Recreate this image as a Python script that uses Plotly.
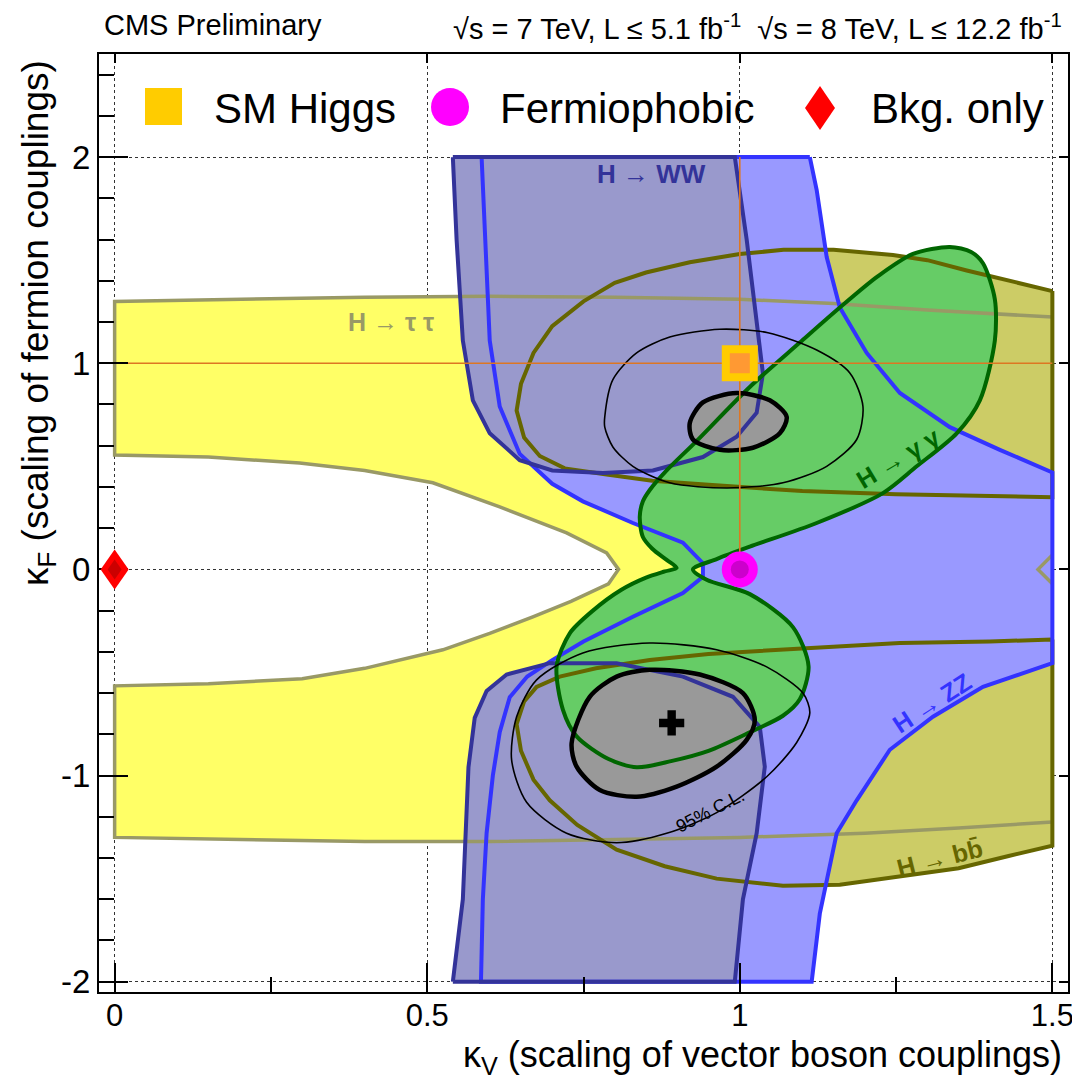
import plotly.graph_objects as go

# ---------------- data: contour boundaries in (kappa_V, kappa_F) ----------------
# H -> tau tau (yellow band)
tt_top_x = [0.0, 0.2, 0.4, 0.6, 0.8, 1.0, 1.15, 1.3, 1.5]
tt_top_y = [1.30, 1.31, 1.32, 1.325, 1.32, 1.31, 1.29, 1.258, 1.224]
tt_bot_x = [0.0, 0.2, 0.4, 0.6, 0.8, 1.0, 1.2, 1.35, 1.5]
tt_bot_y = [-1.30, -1.31, -1.32, -1.32, -1.31, -1.30, -1.28, -1.255, -1.225]
tt_in_x = [0.0, 0.15, 0.296, 0.4, 0.509, 0.616, 0.723, 0.787, 0.806, 0.79, 0.73, 0.669,
           0.6, 0.525, 0.4, 0.3, 0.15, 0.0]
tt_in_y = [0.555, 0.545, 0.516, 0.48, 0.42, 0.303, 0.177, 0.08, 0.0, -0.07, -0.155, -0.23,
           -0.31, -0.39, -0.48, -0.53, -0.555, -0.565]
tt_notch_x = [1.5, 1.477, 1.5]
tt_notch_y = [0.07, 0.0, -0.07]

# H -> bb (olive), upper and lower lobes
bbu_x = [1.5, 1.43, 1.363, 1.30, 1.245, 1.15, 1.07, 1.0, 0.92, 0.85, 0.80, 0.75, 0.70, 0.67,
         0.65, 0.643, 0.655, 0.68, 0.72, 0.787, 0.86, 0.95, 1.10, 1.25, 1.4, 1.5]
bbu_y = [1.35, 1.40, 1.45, 1.50, 1.525, 1.55, 1.55, 1.53, 1.49, 1.44, 1.39, 1.30, 1.18, 1.05,
         0.90, 0.77, 0.64, 0.55, 0.49, 0.46, 0.43, 0.41, 0.38, 0.365, 0.355, 0.35]
bbl_x = [1.5, 1.4, 1.256, 1.07, 0.95, 0.856, 0.77, 0.712, 0.675, 0.655, 0.643, 0.65, 0.67,
         0.696, 0.74, 0.803, 0.88, 0.963, 1.069, 1.16, 1.256, 1.35, 1.43, 1.5]
bbl_y = [-0.34, -0.35, -0.357, -0.39, -0.41, -0.44, -0.48, -0.52, -0.57, -0.64, -0.75, -0.88,
         -1.02, -1.12, -1.24, -1.36, -1.44, -1.50, -1.535, -1.53, -1.49, -1.45, -1.39, -1.34]

# H -> ZZ (blue)
zz_x = [1.112, 1.123, 1.139, 1.16, 1.203, 1.256, 1.336, 1.416, 1.5, 1.5, 1.389, 1.309, 1.24,
        1.187, 1.155, 1.139, 1.128, 1.115, 0.586, 0.589, 0.595, 0.605, 0.616, 0.632, 0.66,
        0.70, 0.75, 0.829, 0.909, 0.941, 0.941, 0.909, 0.829, 0.749, 0.70, 0.648, 0.616,
        0.60, 0.592, 0.587]
zz_y = [2.0, 1.84, 1.515, 1.27, 1.05, 0.856, 0.69, 0.58, 0.47, -0.455, -0.57, -0.715, -0.875,
        -1.12, -1.28, -1.52, -1.67, -2.0, -2.0, -1.60, -1.28, -1.0, -0.79, -0.62, -0.52,
        -0.44, -0.35, -0.23, -0.115, -0.036, 0.03, 0.13, 0.225, 0.33, 0.415, 0.56, 0.79,
        1.11, 1.6, 2.0]

# H -> WW (slate blue), upper and lower regions
wwu_x = [0.541, 0.547, 0.557, 0.573, 0.60, 0.648, 0.70, 0.781, 0.861, 0.941, 0.995, 1.027,
         1.037, 1.027, 1.011, 0.992]
wwu_y = [2.0, 1.6, 1.11, 0.82, 0.66, 0.53, 0.48, 0.468, 0.48, 0.545, 0.643, 0.76, 0.95,
         1.195, 1.60, 2.0]
wwl_x = [0.541, 0.557, 0.566, 0.576, 0.595, 0.627, 0.696, 0.803, 0.909, 0.989, 1.032, 1.04,
         1.027, 1.005, 0.992]
wwl_y = [-2.0, -1.60, -0.96, -0.72, -0.59, -0.51, -0.455, -0.455, -0.52, -0.618, -0.764,
         -0.957, -1.28, -1.60, -2.0]

# H -> gamma gamma (green)
gg_x = [0.899, 0.883, 0.86, 0.845, 0.84, 0.845, 0.856, 0.883, 0.93, 1.016, 1.096, 1.16, 1.22,
        1.277, 1.336, 1.37, 1.389, 1.408, 1.408, 1.384, 1.347, 1.283, 1.229, 1.123, 1.016,
        0.963, 0.925, 0.947, 1.016, 1.085, 1.11, 1.096, 1.069, 1.016, 0.95, 0.89, 0.835,
        0.79, 0.739, 0.717, 0.707, 0.728, 0.765, 0.81, 0.85, 0.88]
gg_y = [0.007, 0.046, 0.10, 0.157, 0.255, 0.33, 0.385, 0.48, 0.62, 0.885, 1.10, 1.27, 1.42,
        1.53, 1.564, 1.54, 1.485, 1.31, 1.11, 0.82, 0.66, 0.50, 0.37, 0.225, 0.11, 0.05, 0.0,
        -0.05, -0.12, -0.28, -0.47, -0.63, -0.71, -0.79, -0.88, -0.93, -0.96, -0.92, -0.81,
        -0.68, -0.47, -0.31, -0.20, -0.10, -0.04, -0.01]

# Combined 68% CL (grey filled) and 95% CL (thin) contours
c68u_x = [0.92, 0.941, 0.995, 1.048, 1.075, 1.064, 1.021, 0.968, 0.925]
c68u_y = [0.71, 0.81, 0.855, 0.82, 0.74, 0.66, 0.59, 0.58, 0.63]
c68l_x = [0.731, 0.76, 0.803, 0.856, 0.936, 1.005, 1.024, 1.011, 0.963, 0.899, 0.835, 0.776,
          0.739]
c68l_y = [-0.843, -0.618, -0.52, -0.487, -0.51, -0.60, -0.73, -0.827, -0.957, -1.054, -1.103,
          -1.07, -0.957]
c95u_x = [0.784, 0.797, 0.835, 0.888, 0.968, 1.045, 1.123, 1.176, 1.197, 1.187, 1.139, 1.069,
          0.98, 0.888, 0.829, 0.797, 0.784]
c95u_y = [0.74, 0.92, 1.05, 1.127, 1.165, 1.148, 1.064, 0.953, 0.79, 0.63, 0.50, 0.42, 0.395,
          0.42, 0.50, 0.594, 0.69]
c95l_x = [0.635, 0.643, 0.675, 0.749, 0.856, 0.963, 1.043, 1.101, 1.112, 1.091, 1.043, 0.963,
          0.883, 0.803, 0.723, 0.659]
c95l_y = [-0.924, -0.715, -0.536, -0.405, -0.357, -0.39, -0.473, -0.60, -0.696, -0.84, -1.006,
          -1.18, -1.28, -1.326, -1.28, -1.13]

# Reference points
sm_point = (1.0, 1.0)
fp_point = (1.0, 0.0)
bkg_point = (0.0, 0.0)
best_fit = (0.891, -0.745)

x_tick_vals = [0, 0.5, 1, 1.5]
x_tick_text = ["0", "0.5", "1", "1.5"]
y_tick_vals = [-2, -1, 0, 1, 2]
y_tick_text = ["-2", "-1", "0", "1", "2"]

FONT = "Liberation Sans, Arial, Helvetica, sans-serif"

fig = go.Figure()


def closed(xs, ys):
    return list(xs) + [xs[0]], list(ys) + [ys[0]]


def add_fill(xs, ys, color, shape="linear"):
    cx, cy = closed(xs, ys)
    fig.add_trace(go.Scatter(x=cx, y=cy, mode="lines", fill="toself", fillcolor=color,
                             line=dict(width=0, color=color, shape=shape, smoothing=0.8),
                             hoverinfo="skip", showlegend=False))


def add_line(xs, ys, color, width, shape="linear"):
    fig.add_trace(go.Scatter(x=xs, y=ys, mode="lines",
                             line=dict(width=width, color=color, shape=shape, smoothing=0.8),
                             hoverinfo="skip", showlegend=False))


# ---- fills (back to front) ----
tt_fx = tt_top_x + tt_notch_x + tt_bot_x[::-1] + tt_in_x[::-1]
tt_fy = tt_top_y + tt_notch_y + tt_bot_y[::-1] + tt_in_y[::-1]
add_fill(tt_fx, tt_fy, "#ffff66")
add_fill(bbu_x, bbu_y, "#cccc66")
add_fill(bbl_x, bbl_y, "#cccc66")
add_fill(zz_x, zz_y, "#9999ff")
add_fill(wwu_x, wwu_y, "#9999cc")
add_fill(wwl_x, wwl_y, "#9999cc")
add_fill(gg_x, gg_y, "#66cc66", "spline")
add_fill(c68u_x, c68u_y, "#999999", "spline")
add_fill(c68l_x, c68l_y, "#999999", "spline")

# ---- contour lines ----
tt_lx = tt_top_x[::-1] + tt_in_x + tt_bot_x + [None] + tt_notch_x
tt_ly = tt_top_y[::-1] + tt_in_y + tt_bot_y + [None] + tt_notch_y
add_line(tt_lx, tt_ly, "#999966", 3.5)
for bx, by in ((bbu_x, bbu_y), (bbl_x, bbl_y)):
    cx, cy = closed(bx, by)
    add_line(cx, cy, "#666600", 4)
cx, cy = closed(zz_x, zz_y)
add_line(cx, cy, "#3333ff", 4)
for wx, wy in ((wwu_x, wwu_y), (wwl_x, wwl_y)):
    cx, cy = closed(wx, wy)
    add_line(cx, cy, "#333399", 4)
cx, cy = closed(gg_x, gg_y)
add_line(cx, cy, "#006600", 4, "spline")
for ex, ey in ((c95u_x, c95u_y), (c95l_x, c95l_y)):
    cx, cy = closed(ex, ey)
    add_line(cx, cy, "black", 1.6, "spline")
for ex, ey in ((c68u_x, c68u_y), (c68l_x, c68l_y)):
    cx, cy = closed(ex, ey)
    add_line(cx, cy, "black", 4.5, "spline")

# ---- SM reference cross-hair ----
add_line([bkg_point[0], x_tick_vals[-1]], [sm_point[1], sm_point[1]], "#dd7722", 1.6)
add_line([sm_point[0], sm_point[0]], [fp_point[1], y_tick_vals[-1]], "#dd7722", 1.6)

# ---- markers ----
fig.add_trace(go.Scatter(x=[sm_point[0]], y=[sm_point[1]], mode="markers",
                         marker=dict(symbol="square", size=36, color="#ffcc00"),
                         hoverinfo="skip", showlegend=False))
fig.add_trace(go.Scatter(x=[sm_point[0]], y=[sm_point[1]], mode="markers",
                         marker=dict(symbol="square", size=20, color="#ff9933"),
                         hoverinfo="skip", showlegend=False))
fig.add_trace(go.Scatter(x=[fp_point[0]], y=[fp_point[1]], mode="markers",
                         marker=dict(symbol="circle", size=36, color="#ff00ff"),
                         hoverinfo="skip", showlegend=False))
fig.add_trace(go.Scatter(x=[fp_point[0]], y=[fp_point[1]], mode="markers",
                         marker=dict(symbol="circle", size=18, color="#cc00cc"),
                         hoverinfo="skip", showlegend=False))
fig.add_trace(go.Scatter(x=[best_fit[0]], y=[best_fit[1]], mode="markers",
                         marker=dict(symbol="cross", size=21, color="black"),
                         hoverinfo="skip", showlegend=False))
# empty trace that activates the top/right tick axes
fig.add_trace(go.Scatter(x=[None], y=[None], xaxis="x2", yaxis="y2", mode="markers",
                         hoverinfo="skip", showlegend=False))

shapes = []
# background-only diamond (pixel-sized, anchored at the data point)
shapes.append(dict(type="path", xref="x", yref="y", xsizemode="pixel", ysizemode="pixel",
                   xanchor=bkg_point[0], yanchor=bkg_point[1],
                   path="M 0 20 L 14 0 L 0 -20 L -14 0 Z", fillcolor="#ff0000",
                   line=dict(width=0), layer="above"))
shapes.append(dict(type="path", xref="x", yref="y", xsizemode="pixel", ysizemode="pixel",
                   xanchor=bkg_point[0], yanchor=bkg_point[1],
                   path="M 0 10 L 7 0 L 0 -10 L -7 0 Z", fillcolor="#cc0000",
                   line=dict(width=0), layer="above"))

# page geometry: the page body adds an 8 px offset, so the figure is 1072 px
# and the plot frame lands at x 99..1068, y 54..992 of the 1080 px window.
PX0, PX1, PY0, PY1 = 99, 1068, 54, 992


def px(xp):
    return (xp - PX0) / float(PX1 - PX0)


def py(yp):
    return (PY1 - yp) / float(PY1 - PY0)


# ---- legend (drawn in paper space) ----
shapes.append(dict(type="rect", xref="paper", yref="paper", x0=px(145), x1=px(182),
                   y0=py(125), y1=py(88), fillcolor="#ffcc00", line=dict(width=0)))
shapes.append(dict(type="circle", xref="paper", yref="paper", x0=px(431), x1=px(469),
                   y0=py(126), y1=py(88), fillcolor="#ff00ff", line=dict(width=0)))
shapes.append(dict(type="path", xref="paper", yref="paper",
                   path="M {a} {b} L {c} {d} L {a} {e} L {f} {d} Z".format(
                       a=px(820), b=py(86), c=px(835), d=py(108), e=py(130), f=px(805)),
                   fillcolor="#ff0000", line=dict(width=0)))

annotations = []
for txt, xp in (("SM Higgs", 212), ("Fermiophobic", 498), ("Bkg. only", 869)):
    annotations.append(dict(text=txt, x=px(xp), y=py(108), xref="paper", yref="paper",
                            xanchor="left", yanchor="middle", showarrow=False,
                            font=dict(family=FONT, size=42, color="black")))

# header texts
annotations.append(dict(text="CMS Preliminary", x=px(103), y=py(25), xref="paper",
                        yref="paper", xanchor="left", yanchor="middle", showarrow=False,
                        borderpad=0, font=dict(family=FONT, size=29, color="black")))
annotations.append(dict(text="√s = 7 TeV, L ≤ 5.1 fb<sup>-1</sup>  √s = 8 TeV, L ≤ 12.2 fb<sup>-1</sup>",
                        x=px(1063), y=py(27), xref="paper", yref="paper", xanchor="right",
                        yanchor="middle", showarrow=False, borderpad=0,
                        font=dict(family=FONT, size=29, color="black")))
# axis titles
annotations.append(dict(text="κ<sub>V</sub> (scaling of vector boson couplings)",
                        x=px(1063), y=py(1057), xref="paper", yref="paper",
                        xanchor="right", yanchor="middle", showarrow=False, borderpad=0,
                        font=dict(family=FONT, size=36, color="black")))
annotations.append(dict(text="κ<sub>F</sub> (scaling of fermion couplings)", textangle=-90,
                        x=px(38), y=py(58), xref="paper", yref="paper",
                        xanchor="center", yanchor="top", showarrow=False,
                        font=dict(family=FONT, size=37, color="black")))

# channel labels (data space)
labels = [
    ("<b>H → WW</b>", 0.859, 1.918, 0, "#333399", 26),
    ("<b>H → τ τ</b>", 0.442, 1.20, 0, "#999966", 25),
    ("<b>H → γ γ</b>", 1.253, 0.54, -31, "#006600", 25),
    ("<b>H → ZZ</b>", 1.307, -0.647, -33, "#3333ff", 25),
    ("<b>H → bb̄</b>", 1.32, -1.40, -14, "#666600", 25),
    ("95% C.L.", 0.952, -1.17, -27, "black", 18),
]
for txt, lx, ly, ang, col, sz in labels:
    annotations.append(dict(text=txt, x=lx, y=ly, xref="x", yref="y", textangle=ang,
                            showarrow=False, xanchor="center", yanchor="middle",
                            font=dict(family=FONT, size=sz, color=col)))

fig.update_layout(
    width=1072, height=1072,
    margin=dict(l=PX0 - 8, r=1080 - PX1, t=PY0 - 8, b=1080 - PY1, autoexpand=False),
    paper_bgcolor="white", plot_bgcolor="white",
    shapes=shapes, annotations=annotations,
    showlegend=False,
    font=dict(family=FONT, color="black"),
    xaxis=dict(range=[-0.025, 1.525], tickmode="array", tickvals=x_tick_vals,
               ticktext=x_tick_text, ticks="inside", ticklen=29, tickwidth=1.5,
               tickcolor="black", showline=True, linecolor="black", linewidth=2,
               mirror=True, showgrid=True, gridcolor="#333333", griddash="dot",
               gridwidth=1, zeroline=False, tickfont=dict(family=FONT, size=31),
               automargin=False, ticklabelstandoff=-5,
               minor=dict(tickmode="linear", tick0=0, dtick=0.25, ticks="inside",
                          ticklen=15, tickcolor="black", showgrid=False)),
    yaxis=dict(range=[-2.05, 2.5], tickmode="array", tickvals=y_tick_vals,
               ticktext=y_tick_text, ticks="inside", ticklen=29, tickwidth=1.5,
               tickcolor="black", showline=True, linecolor="black", linewidth=2,
               mirror=True, showgrid=True, gridcolor="#333333", griddash="dot",
               gridwidth=1, zeroline=False, tickfont=dict(family=FONT, size=33),
               automargin=False,
               minor=dict(tickmode="linear", tick0=0, dtick=0.2, ticks="inside",
                          ticklen=15, tickcolor="black", showgrid=False)),
    xaxis2=dict(overlaying="x", matches="x", side="top", range=[-0.025, 1.525],
                tickmode="array", tickvals=x_tick_vals, ticks="inside", ticklen=9,
                tickwidth=1.5, tickcolor="black", showticklabels=False, showgrid=False,
                zeroline=False, showline=False, automargin=False),
    yaxis2=dict(overlaying="y", matches="y", side="right", anchor="x2", range=[-2.05, 2.5],
                tickmode="array", tickvals=y_tick_vals, ticks="inside", ticklen=9,
                tickwidth=1.5, tickcolor="black", showticklabels=False, showgrid=False,
                zeroline=False, showline=False, automargin=False),
)

fig.write_html("out.html")
